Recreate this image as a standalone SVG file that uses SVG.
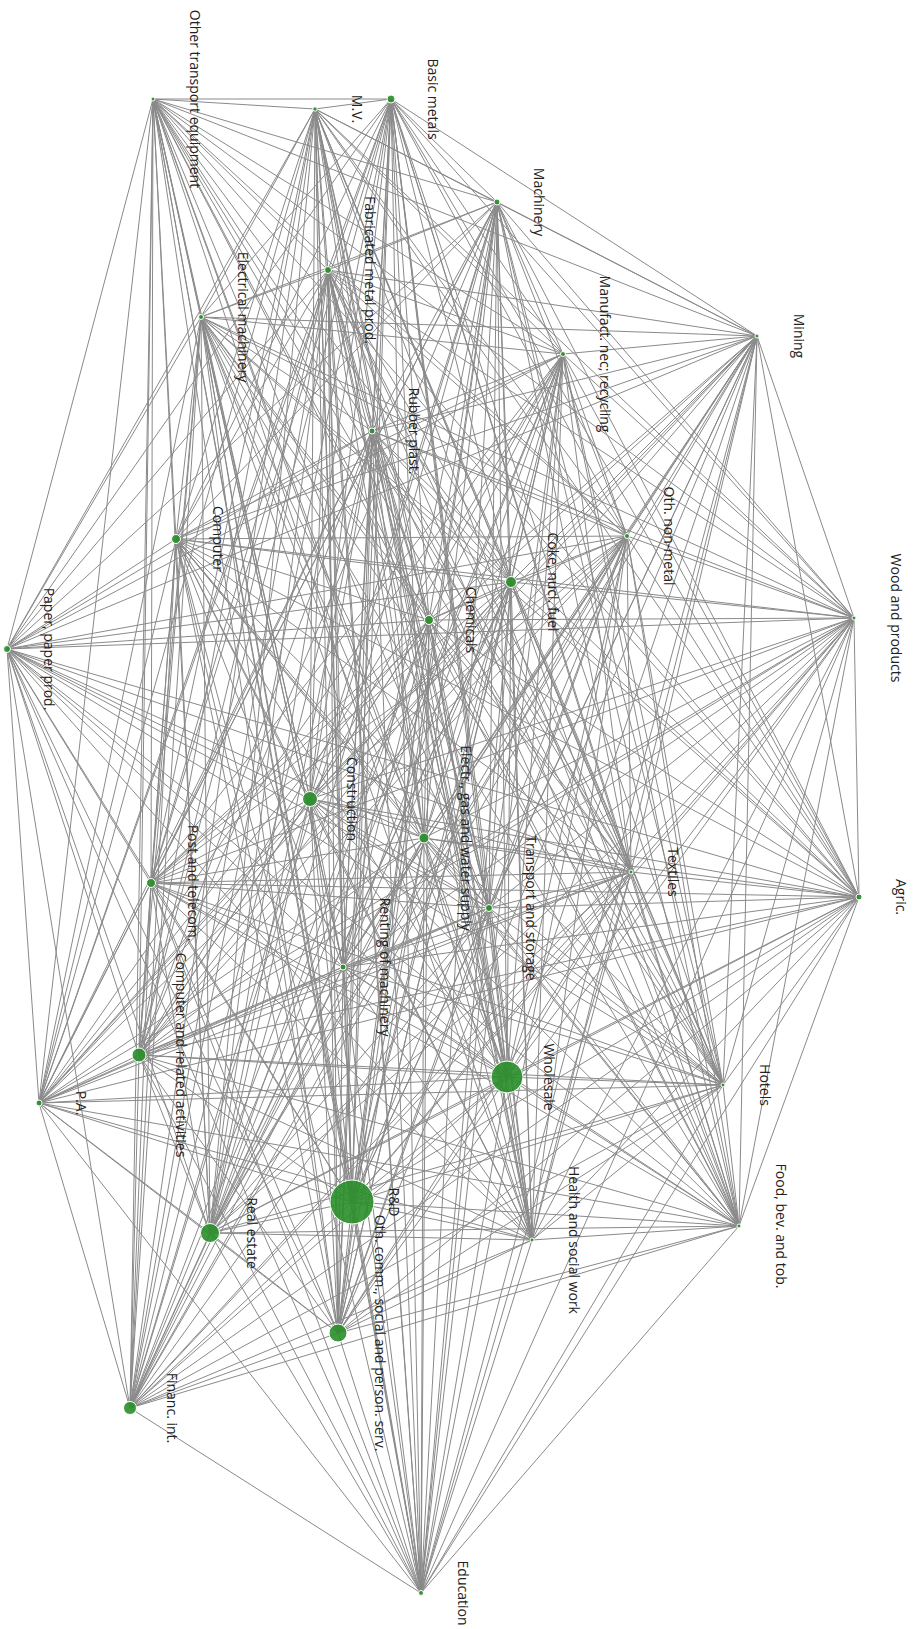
<svg xmlns="http://www.w3.org/2000/svg" width="920" height="1629" viewBox="0 0 920 1629">
<style>
.e line{stroke:#8a8a8a;stroke-width:1}
.n circle{fill:#2a8f2a;fill-opacity:.9;stroke:#fff;stroke-width:1}
.n text{font-family:"Open Sans","Liberation Sans",sans-serif;font-size:14px;fill:#222;text-anchor:middle}
</style>
<rect width="920" height="1629" fill="#fff"/>
<g id="edges" class="e">
<line x1="153" y1="99" x2="315" y2="109"/><line x1="153" y1="99" x2="391" y2="99"/><line x1="153" y1="99" x2="497" y2="202"/><line x1="153" y1="99" x2="328" y2="270"/><line x1="153" y1="99" x2="201" y2="317"/><line x1="153" y1="99" x2="757" y2="336"/><line x1="153" y1="99" x2="563" y2="354"/><line x1="153" y1="99" x2="372" y2="431"/><line x1="153" y1="99" x2="627" y2="536"/><line x1="153" y1="99" x2="176" y2="539"/><line x1="153" y1="99" x2="511" y2="582"/><line x1="153" y1="99" x2="854" y2="618"/><line x1="153" y1="99" x2="429" y2="620"/><line x1="153" y1="99" x2="7" y2="649"/><line x1="153" y1="99" x2="310" y2="799"/><line x1="153" y1="99" x2="424" y2="838"/><line x1="153" y1="99" x2="631" y2="872"/><line x1="153" y1="99" x2="151" y2="883"/><line x1="153" y1="99" x2="859" y2="897"/><line x1="153" y1="99" x2="489" y2="908"/><line x1="153" y1="99" x2="343" y2="967"/><line x1="153" y1="99" x2="139" y2="1055"/><line x1="153" y1="99" x2="507" y2="1077"/><line x1="153" y1="99" x2="723" y2="1085"/><line x1="153" y1="99" x2="39" y2="1103"/><line x1="153" y1="99" x2="352" y2="1202"/><line x1="153" y1="99" x2="739" y2="1226"/><line x1="153" y1="99" x2="210" y2="1233"/><line x1="153" y1="99" x2="532" y2="1240"/><line x1="153" y1="99" x2="338" y2="1333"/><line x1="153" y1="99" x2="130" y2="1408"/><line x1="153" y1="99" x2="421" y2="1593"/>
<line x1="315" y1="109" x2="391" y2="99"/><line x1="315" y1="109" x2="497" y2="202"/><line x1="315" y1="109" x2="328" y2="270"/><line x1="315" y1="109" x2="201" y2="317"/><line x1="315" y1="109" x2="757" y2="336"/><line x1="315" y1="109" x2="563" y2="354"/><line x1="315" y1="109" x2="372" y2="431"/><line x1="315" y1="109" x2="627" y2="536"/><line x1="315" y1="109" x2="176" y2="539"/><line x1="315" y1="109" x2="511" y2="582"/><line x1="315" y1="109" x2="854" y2="618"/><line x1="315" y1="109" x2="429" y2="620"/><line x1="315" y1="109" x2="7" y2="649"/><line x1="315" y1="109" x2="310" y2="799"/><line x1="315" y1="109" x2="424" y2="838"/><line x1="315" y1="109" x2="631" y2="872"/><line x1="315" y1="109" x2="151" y2="883"/><line x1="315" y1="109" x2="859" y2="897"/><line x1="315" y1="109" x2="489" y2="908"/><line x1="315" y1="109" x2="343" y2="967"/><line x1="315" y1="109" x2="139" y2="1055"/><line x1="315" y1="109" x2="507" y2="1077"/><line x1="315" y1="109" x2="723" y2="1085"/><line x1="315" y1="109" x2="39" y2="1103"/><line x1="315" y1="109" x2="352" y2="1202"/><line x1="315" y1="109" x2="739" y2="1226"/><line x1="315" y1="109" x2="210" y2="1233"/><line x1="315" y1="109" x2="532" y2="1240"/><line x1="315" y1="109" x2="338" y2="1333"/><line x1="315" y1="109" x2="130" y2="1408"/><line x1="315" y1="109" x2="421" y2="1593"/>
<line x1="391" y1="99" x2="497" y2="202"/><line x1="391" y1="99" x2="328" y2="270"/><line x1="391" y1="99" x2="201" y2="317"/><line x1="391" y1="99" x2="757" y2="336"/><line x1="391" y1="99" x2="563" y2="354"/><line x1="391" y1="99" x2="372" y2="431"/><line x1="391" y1="99" x2="627" y2="536"/><line x1="391" y1="99" x2="176" y2="539"/><line x1="391" y1="99" x2="511" y2="582"/><line x1="391" y1="99" x2="854" y2="618"/><line x1="391" y1="99" x2="429" y2="620"/><line x1="391" y1="99" x2="7" y2="649"/><line x1="391" y1="99" x2="310" y2="799"/><line x1="391" y1="99" x2="424" y2="838"/><line x1="391" y1="99" x2="631" y2="872"/><line x1="391" y1="99" x2="151" y2="883"/><line x1="391" y1="99" x2="859" y2="897"/><line x1="391" y1="99" x2="489" y2="908"/><line x1="391" y1="99" x2="343" y2="967"/><line x1="391" y1="99" x2="139" y2="1055"/><line x1="391" y1="99" x2="507" y2="1077"/><line x1="391" y1="99" x2="723" y2="1085"/><line x1="391" y1="99" x2="39" y2="1103"/><line x1="391" y1="99" x2="352" y2="1202"/><line x1="391" y1="99" x2="739" y2="1226"/><line x1="391" y1="99" x2="210" y2="1233"/><line x1="391" y1="99" x2="532" y2="1240"/><line x1="391" y1="99" x2="338" y2="1333"/><line x1="391" y1="99" x2="130" y2="1408"/><line x1="391" y1="99" x2="421" y2="1593"/>
<line x1="497" y1="202" x2="328" y2="270"/><line x1="497" y1="202" x2="201" y2="317"/><line x1="497" y1="202" x2="757" y2="336"/><line x1="497" y1="202" x2="563" y2="354"/><line x1="497" y1="202" x2="372" y2="431"/><line x1="497" y1="202" x2="627" y2="536"/><line x1="497" y1="202" x2="176" y2="539"/><line x1="497" y1="202" x2="511" y2="582"/><line x1="497" y1="202" x2="854" y2="618"/><line x1="497" y1="202" x2="429" y2="620"/><line x1="497" y1="202" x2="7" y2="649"/><line x1="497" y1="202" x2="310" y2="799"/><line x1="497" y1="202" x2="424" y2="838"/><line x1="497" y1="202" x2="631" y2="872"/><line x1="497" y1="202" x2="151" y2="883"/><line x1="497" y1="202" x2="859" y2="897"/><line x1="497" y1="202" x2="489" y2="908"/><line x1="497" y1="202" x2="343" y2="967"/><line x1="497" y1="202" x2="139" y2="1055"/><line x1="497" y1="202" x2="507" y2="1077"/><line x1="497" y1="202" x2="723" y2="1085"/><line x1="497" y1="202" x2="39" y2="1103"/><line x1="497" y1="202" x2="352" y2="1202"/><line x1="497" y1="202" x2="739" y2="1226"/><line x1="497" y1="202" x2="210" y2="1233"/><line x1="497" y1="202" x2="532" y2="1240"/><line x1="497" y1="202" x2="338" y2="1333"/><line x1="497" y1="202" x2="130" y2="1408"/><line x1="497" y1="202" x2="421" y2="1593"/>
<line x1="328" y1="270" x2="201" y2="317"/><line x1="328" y1="270" x2="757" y2="336"/><line x1="328" y1="270" x2="563" y2="354"/><line x1="328" y1="270" x2="372" y2="431"/><line x1="328" y1="270" x2="627" y2="536"/><line x1="328" y1="270" x2="176" y2="539"/><line x1="328" y1="270" x2="511" y2="582"/><line x1="328" y1="270" x2="854" y2="618"/><line x1="328" y1="270" x2="429" y2="620"/><line x1="328" y1="270" x2="7" y2="649"/><line x1="328" y1="270" x2="310" y2="799"/><line x1="328" y1="270" x2="424" y2="838"/><line x1="328" y1="270" x2="631" y2="872"/><line x1="328" y1="270" x2="151" y2="883"/><line x1="328" y1="270" x2="859" y2="897"/><line x1="328" y1="270" x2="489" y2="908"/><line x1="328" y1="270" x2="343" y2="967"/><line x1="328" y1="270" x2="139" y2="1055"/><line x1="328" y1="270" x2="507" y2="1077"/><line x1="328" y1="270" x2="723" y2="1085"/><line x1="328" y1="270" x2="39" y2="1103"/><line x1="328" y1="270" x2="352" y2="1202"/><line x1="328" y1="270" x2="739" y2="1226"/><line x1="328" y1="270" x2="210" y2="1233"/><line x1="328" y1="270" x2="532" y2="1240"/><line x1="328" y1="270" x2="338" y2="1333"/><line x1="328" y1="270" x2="130" y2="1408"/><line x1="328" y1="270" x2="421" y2="1593"/>
<line x1="201" y1="317" x2="757" y2="336"/><line x1="201" y1="317" x2="563" y2="354"/><line x1="201" y1="317" x2="372" y2="431"/><line x1="201" y1="317" x2="627" y2="536"/><line x1="201" y1="317" x2="176" y2="539"/><line x1="201" y1="317" x2="511" y2="582"/><line x1="201" y1="317" x2="854" y2="618"/><line x1="201" y1="317" x2="429" y2="620"/><line x1="201" y1="317" x2="7" y2="649"/><line x1="201" y1="317" x2="310" y2="799"/><line x1="201" y1="317" x2="424" y2="838"/><line x1="201" y1="317" x2="631" y2="872"/><line x1="201" y1="317" x2="151" y2="883"/><line x1="201" y1="317" x2="859" y2="897"/><line x1="201" y1="317" x2="489" y2="908"/><line x1="201" y1="317" x2="343" y2="967"/><line x1="201" y1="317" x2="139" y2="1055"/><line x1="201" y1="317" x2="507" y2="1077"/><line x1="201" y1="317" x2="723" y2="1085"/><line x1="201" y1="317" x2="39" y2="1103"/><line x1="201" y1="317" x2="352" y2="1202"/><line x1="201" y1="317" x2="739" y2="1226"/><line x1="201" y1="317" x2="210" y2="1233"/><line x1="201" y1="317" x2="532" y2="1240"/><line x1="201" y1="317" x2="338" y2="1333"/><line x1="201" y1="317" x2="130" y2="1408"/><line x1="201" y1="317" x2="421" y2="1593"/>
<line x1="757" y1="336" x2="563" y2="354"/><line x1="757" y1="336" x2="372" y2="431"/><line x1="757" y1="336" x2="627" y2="536"/><line x1="757" y1="336" x2="176" y2="539"/><line x1="757" y1="336" x2="511" y2="582"/><line x1="757" y1="336" x2="854" y2="618"/><line x1="757" y1="336" x2="429" y2="620"/><line x1="757" y1="336" x2="7" y2="649"/><line x1="757" y1="336" x2="310" y2="799"/><line x1="757" y1="336" x2="424" y2="838"/><line x1="757" y1="336" x2="631" y2="872"/><line x1="757" y1="336" x2="151" y2="883"/><line x1="757" y1="336" x2="859" y2="897"/><line x1="757" y1="336" x2="489" y2="908"/><line x1="757" y1="336" x2="343" y2="967"/><line x1="757" y1="336" x2="139" y2="1055"/><line x1="757" y1="336" x2="507" y2="1077"/><line x1="757" y1="336" x2="723" y2="1085"/><line x1="757" y1="336" x2="39" y2="1103"/><line x1="757" y1="336" x2="352" y2="1202"/><line x1="757" y1="336" x2="739" y2="1226"/><line x1="757" y1="336" x2="210" y2="1233"/><line x1="757" y1="336" x2="532" y2="1240"/><line x1="757" y1="336" x2="338" y2="1333"/><line x1="757" y1="336" x2="130" y2="1408"/><line x1="757" y1="336" x2="421" y2="1593"/>
<line x1="563" y1="354" x2="372" y2="431"/><line x1="563" y1="354" x2="627" y2="536"/><line x1="563" y1="354" x2="176" y2="539"/><line x1="563" y1="354" x2="511" y2="582"/><line x1="563" y1="354" x2="854" y2="618"/><line x1="563" y1="354" x2="429" y2="620"/><line x1="563" y1="354" x2="7" y2="649"/><line x1="563" y1="354" x2="310" y2="799"/><line x1="563" y1="354" x2="424" y2="838"/><line x1="563" y1="354" x2="631" y2="872"/><line x1="563" y1="354" x2="151" y2="883"/><line x1="563" y1="354" x2="859" y2="897"/><line x1="563" y1="354" x2="489" y2="908"/><line x1="563" y1="354" x2="343" y2="967"/><line x1="563" y1="354" x2="139" y2="1055"/><line x1="563" y1="354" x2="507" y2="1077"/><line x1="563" y1="354" x2="723" y2="1085"/><line x1="563" y1="354" x2="39" y2="1103"/><line x1="563" y1="354" x2="352" y2="1202"/><line x1="563" y1="354" x2="739" y2="1226"/><line x1="563" y1="354" x2="210" y2="1233"/><line x1="563" y1="354" x2="532" y2="1240"/><line x1="563" y1="354" x2="338" y2="1333"/><line x1="563" y1="354" x2="130" y2="1408"/><line x1="563" y1="354" x2="421" y2="1593"/>
<line x1="372" y1="431" x2="627" y2="536"/><line x1="372" y1="431" x2="176" y2="539"/><line x1="372" y1="431" x2="511" y2="582"/><line x1="372" y1="431" x2="854" y2="618"/><line x1="372" y1="431" x2="429" y2="620"/><line x1="372" y1="431" x2="7" y2="649"/><line x1="372" y1="431" x2="310" y2="799"/><line x1="372" y1="431" x2="424" y2="838"/><line x1="372" y1="431" x2="631" y2="872"/><line x1="372" y1="431" x2="151" y2="883"/><line x1="372" y1="431" x2="859" y2="897"/><line x1="372" y1="431" x2="489" y2="908"/><line x1="372" y1="431" x2="343" y2="967"/><line x1="372" y1="431" x2="139" y2="1055"/><line x1="372" y1="431" x2="507" y2="1077"/><line x1="372" y1="431" x2="723" y2="1085"/><line x1="372" y1="431" x2="39" y2="1103"/><line x1="372" y1="431" x2="352" y2="1202"/><line x1="372" y1="431" x2="739" y2="1226"/><line x1="372" y1="431" x2="210" y2="1233"/><line x1="372" y1="431" x2="532" y2="1240"/><line x1="372" y1="431" x2="338" y2="1333"/><line x1="372" y1="431" x2="130" y2="1408"/><line x1="372" y1="431" x2="421" y2="1593"/>
<line x1="627" y1="536" x2="176" y2="539"/><line x1="627" y1="536" x2="511" y2="582"/><line x1="627" y1="536" x2="854" y2="618"/><line x1="627" y1="536" x2="429" y2="620"/><line x1="627" y1="536" x2="7" y2="649"/><line x1="627" y1="536" x2="310" y2="799"/><line x1="627" y1="536" x2="424" y2="838"/><line x1="627" y1="536" x2="631" y2="872"/><line x1="627" y1="536" x2="151" y2="883"/><line x1="627" y1="536" x2="859" y2="897"/><line x1="627" y1="536" x2="489" y2="908"/><line x1="627" y1="536" x2="343" y2="967"/><line x1="627" y1="536" x2="139" y2="1055"/><line x1="627" y1="536" x2="507" y2="1077"/><line x1="627" y1="536" x2="723" y2="1085"/><line x1="627" y1="536" x2="39" y2="1103"/><line x1="627" y1="536" x2="352" y2="1202"/><line x1="627" y1="536" x2="739" y2="1226"/><line x1="627" y1="536" x2="210" y2="1233"/><line x1="627" y1="536" x2="532" y2="1240"/><line x1="627" y1="536" x2="338" y2="1333"/><line x1="627" y1="536" x2="130" y2="1408"/><line x1="627" y1="536" x2="421" y2="1593"/>
<line x1="176" y1="539" x2="511" y2="582"/><line x1="176" y1="539" x2="854" y2="618"/><line x1="176" y1="539" x2="429" y2="620"/><line x1="176" y1="539" x2="7" y2="649"/><line x1="176" y1="539" x2="310" y2="799"/><line x1="176" y1="539" x2="424" y2="838"/><line x1="176" y1="539" x2="631" y2="872"/><line x1="176" y1="539" x2="151" y2="883"/><line x1="176" y1="539" x2="859" y2="897"/><line x1="176" y1="539" x2="489" y2="908"/><line x1="176" y1="539" x2="343" y2="967"/><line x1="176" y1="539" x2="139" y2="1055"/><line x1="176" y1="539" x2="507" y2="1077"/><line x1="176" y1="539" x2="723" y2="1085"/><line x1="176" y1="539" x2="39" y2="1103"/><line x1="176" y1="539" x2="352" y2="1202"/><line x1="176" y1="539" x2="739" y2="1226"/><line x1="176" y1="539" x2="210" y2="1233"/><line x1="176" y1="539" x2="532" y2="1240"/><line x1="176" y1="539" x2="338" y2="1333"/><line x1="176" y1="539" x2="130" y2="1408"/><line x1="176" y1="539" x2="421" y2="1593"/>
<line x1="511" y1="582" x2="854" y2="618"/><line x1="511" y1="582" x2="429" y2="620"/><line x1="511" y1="582" x2="7" y2="649"/><line x1="511" y1="582" x2="310" y2="799"/><line x1="511" y1="582" x2="424" y2="838"/><line x1="511" y1="582" x2="631" y2="872"/><line x1="511" y1="582" x2="151" y2="883"/><line x1="511" y1="582" x2="859" y2="897"/><line x1="511" y1="582" x2="489" y2="908"/><line x1="511" y1="582" x2="343" y2="967"/><line x1="511" y1="582" x2="139" y2="1055"/><line x1="511" y1="582" x2="507" y2="1077"/><line x1="511" y1="582" x2="723" y2="1085"/><line x1="511" y1="582" x2="39" y2="1103"/><line x1="511" y1="582" x2="352" y2="1202"/><line x1="511" y1="582" x2="739" y2="1226"/><line x1="511" y1="582" x2="210" y2="1233"/><line x1="511" y1="582" x2="532" y2="1240"/><line x1="511" y1="582" x2="338" y2="1333"/><line x1="511" y1="582" x2="130" y2="1408"/><line x1="511" y1="582" x2="421" y2="1593"/>
<line x1="854" y1="618" x2="429" y2="620"/><line x1="854" y1="618" x2="7" y2="649"/><line x1="854" y1="618" x2="310" y2="799"/><line x1="854" y1="618" x2="424" y2="838"/><line x1="854" y1="618" x2="631" y2="872"/><line x1="854" y1="618" x2="151" y2="883"/><line x1="854" y1="618" x2="859" y2="897"/><line x1="854" y1="618" x2="489" y2="908"/><line x1="854" y1="618" x2="343" y2="967"/><line x1="854" y1="618" x2="139" y2="1055"/><line x1="854" y1="618" x2="507" y2="1077"/><line x1="854" y1="618" x2="723" y2="1085"/><line x1="854" y1="618" x2="39" y2="1103"/><line x1="854" y1="618" x2="352" y2="1202"/><line x1="854" y1="618" x2="739" y2="1226"/><line x1="854" y1="618" x2="210" y2="1233"/><line x1="854" y1="618" x2="532" y2="1240"/><line x1="854" y1="618" x2="338" y2="1333"/><line x1="854" y1="618" x2="130" y2="1408"/><line x1="854" y1="618" x2="421" y2="1593"/>
<line x1="429" y1="620" x2="7" y2="649"/><line x1="429" y1="620" x2="310" y2="799"/><line x1="429" y1="620" x2="424" y2="838"/><line x1="429" y1="620" x2="631" y2="872"/><line x1="429" y1="620" x2="151" y2="883"/><line x1="429" y1="620" x2="859" y2="897"/><line x1="429" y1="620" x2="489" y2="908"/><line x1="429" y1="620" x2="343" y2="967"/><line x1="429" y1="620" x2="139" y2="1055"/><line x1="429" y1="620" x2="507" y2="1077"/><line x1="429" y1="620" x2="723" y2="1085"/><line x1="429" y1="620" x2="39" y2="1103"/><line x1="429" y1="620" x2="352" y2="1202"/><line x1="429" y1="620" x2="739" y2="1226"/><line x1="429" y1="620" x2="210" y2="1233"/><line x1="429" y1="620" x2="532" y2="1240"/><line x1="429" y1="620" x2="338" y2="1333"/><line x1="429" y1="620" x2="130" y2="1408"/><line x1="429" y1="620" x2="421" y2="1593"/>
<line x1="7" y1="649" x2="310" y2="799"/><line x1="7" y1="649" x2="424" y2="838"/><line x1="7" y1="649" x2="631" y2="872"/><line x1="7" y1="649" x2="151" y2="883"/><line x1="7" y1="649" x2="859" y2="897"/><line x1="7" y1="649" x2="489" y2="908"/><line x1="7" y1="649" x2="343" y2="967"/><line x1="7" y1="649" x2="139" y2="1055"/><line x1="7" y1="649" x2="507" y2="1077"/><line x1="7" y1="649" x2="723" y2="1085"/><line x1="7" y1="649" x2="39" y2="1103"/><line x1="7" y1="649" x2="352" y2="1202"/><line x1="7" y1="649" x2="739" y2="1226"/><line x1="7" y1="649" x2="210" y2="1233"/><line x1="7" y1="649" x2="532" y2="1240"/><line x1="7" y1="649" x2="338" y2="1333"/><line x1="7" y1="649" x2="130" y2="1408"/><line x1="7" y1="649" x2="421" y2="1593"/>
<line x1="310" y1="799" x2="424" y2="838"/><line x1="310" y1="799" x2="631" y2="872"/><line x1="310" y1="799" x2="151" y2="883"/><line x1="310" y1="799" x2="859" y2="897"/><line x1="310" y1="799" x2="489" y2="908"/><line x1="310" y1="799" x2="343" y2="967"/><line x1="310" y1="799" x2="139" y2="1055"/><line x1="310" y1="799" x2="507" y2="1077"/><line x1="310" y1="799" x2="723" y2="1085"/><line x1="310" y1="799" x2="39" y2="1103"/><line x1="310" y1="799" x2="352" y2="1202"/><line x1="310" y1="799" x2="739" y2="1226"/><line x1="310" y1="799" x2="210" y2="1233"/><line x1="310" y1="799" x2="532" y2="1240"/><line x1="310" y1="799" x2="338" y2="1333"/><line x1="310" y1="799" x2="130" y2="1408"/><line x1="310" y1="799" x2="421" y2="1593"/>
<line x1="424" y1="838" x2="631" y2="872"/><line x1="424" y1="838" x2="151" y2="883"/><line x1="424" y1="838" x2="859" y2="897"/><line x1="424" y1="838" x2="489" y2="908"/><line x1="424" y1="838" x2="343" y2="967"/><line x1="424" y1="838" x2="139" y2="1055"/><line x1="424" y1="838" x2="507" y2="1077"/><line x1="424" y1="838" x2="723" y2="1085"/><line x1="424" y1="838" x2="39" y2="1103"/><line x1="424" y1="838" x2="352" y2="1202"/><line x1="424" y1="838" x2="739" y2="1226"/><line x1="424" y1="838" x2="210" y2="1233"/><line x1="424" y1="838" x2="532" y2="1240"/><line x1="424" y1="838" x2="338" y2="1333"/><line x1="424" y1="838" x2="130" y2="1408"/><line x1="424" y1="838" x2="421" y2="1593"/>
<line x1="631" y1="872" x2="151" y2="883"/><line x1="631" y1="872" x2="859" y2="897"/><line x1="631" y1="872" x2="489" y2="908"/><line x1="631" y1="872" x2="343" y2="967"/><line x1="631" y1="872" x2="139" y2="1055"/><line x1="631" y1="872" x2="507" y2="1077"/><line x1="631" y1="872" x2="723" y2="1085"/><line x1="631" y1="872" x2="39" y2="1103"/><line x1="631" y1="872" x2="352" y2="1202"/><line x1="631" y1="872" x2="739" y2="1226"/><line x1="631" y1="872" x2="210" y2="1233"/><line x1="631" y1="872" x2="532" y2="1240"/><line x1="631" y1="872" x2="338" y2="1333"/><line x1="631" y1="872" x2="130" y2="1408"/><line x1="631" y1="872" x2="421" y2="1593"/>
<line x1="151" y1="883" x2="859" y2="897"/><line x1="151" y1="883" x2="489" y2="908"/><line x1="151" y1="883" x2="343" y2="967"/><line x1="151" y1="883" x2="139" y2="1055"/><line x1="151" y1="883" x2="507" y2="1077"/><line x1="151" y1="883" x2="723" y2="1085"/><line x1="151" y1="883" x2="39" y2="1103"/><line x1="151" y1="883" x2="352" y2="1202"/><line x1="151" y1="883" x2="739" y2="1226"/><line x1="151" y1="883" x2="210" y2="1233"/><line x1="151" y1="883" x2="532" y2="1240"/><line x1="151" y1="883" x2="338" y2="1333"/><line x1="151" y1="883" x2="130" y2="1408"/><line x1="151" y1="883" x2="421" y2="1593"/>
<line x1="859" y1="897" x2="489" y2="908"/><line x1="859" y1="897" x2="343" y2="967"/><line x1="859" y1="897" x2="139" y2="1055"/><line x1="859" y1="897" x2="507" y2="1077"/><line x1="859" y1="897" x2="723" y2="1085"/><line x1="859" y1="897" x2="39" y2="1103"/><line x1="859" y1="897" x2="352" y2="1202"/><line x1="859" y1="897" x2="739" y2="1226"/><line x1="859" y1="897" x2="210" y2="1233"/><line x1="859" y1="897" x2="532" y2="1240"/><line x1="859" y1="897" x2="338" y2="1333"/><line x1="859" y1="897" x2="130" y2="1408"/><line x1="859" y1="897" x2="421" y2="1593"/>
<line x1="489" y1="908" x2="343" y2="967"/><line x1="489" y1="908" x2="139" y2="1055"/><line x1="489" y1="908" x2="507" y2="1077"/><line x1="489" y1="908" x2="723" y2="1085"/><line x1="489" y1="908" x2="39" y2="1103"/><line x1="489" y1="908" x2="352" y2="1202"/><line x1="489" y1="908" x2="739" y2="1226"/><line x1="489" y1="908" x2="210" y2="1233"/><line x1="489" y1="908" x2="532" y2="1240"/><line x1="489" y1="908" x2="338" y2="1333"/><line x1="489" y1="908" x2="130" y2="1408"/><line x1="489" y1="908" x2="421" y2="1593"/>
<line x1="343" y1="967" x2="139" y2="1055"/><line x1="343" y1="967" x2="507" y2="1077"/><line x1="343" y1="967" x2="723" y2="1085"/><line x1="343" y1="967" x2="39" y2="1103"/><line x1="343" y1="967" x2="352" y2="1202"/><line x1="343" y1="967" x2="739" y2="1226"/><line x1="343" y1="967" x2="210" y2="1233"/><line x1="343" y1="967" x2="532" y2="1240"/><line x1="343" y1="967" x2="338" y2="1333"/><line x1="343" y1="967" x2="130" y2="1408"/><line x1="343" y1="967" x2="421" y2="1593"/>
<line x1="139" y1="1055" x2="507" y2="1077"/><line x1="139" y1="1055" x2="723" y2="1085"/><line x1="139" y1="1055" x2="39" y2="1103"/><line x1="139" y1="1055" x2="352" y2="1202"/><line x1="139" y1="1055" x2="739" y2="1226"/><line x1="139" y1="1055" x2="210" y2="1233"/><line x1="139" y1="1055" x2="532" y2="1240"/><line x1="139" y1="1055" x2="338" y2="1333"/><line x1="139" y1="1055" x2="130" y2="1408"/><line x1="139" y1="1055" x2="421" y2="1593"/>
<line x1="507" y1="1077" x2="723" y2="1085"/><line x1="507" y1="1077" x2="39" y2="1103"/><line x1="507" y1="1077" x2="352" y2="1202"/><line x1="507" y1="1077" x2="739" y2="1226"/><line x1="507" y1="1077" x2="210" y2="1233"/><line x1="507" y1="1077" x2="532" y2="1240"/><line x1="507" y1="1077" x2="338" y2="1333"/><line x1="507" y1="1077" x2="130" y2="1408"/><line x1="507" y1="1077" x2="421" y2="1593"/>
<line x1="723" y1="1085" x2="39" y2="1103"/><line x1="723" y1="1085" x2="352" y2="1202"/><line x1="723" y1="1085" x2="739" y2="1226"/><line x1="723" y1="1085" x2="210" y2="1233"/><line x1="723" y1="1085" x2="532" y2="1240"/><line x1="723" y1="1085" x2="338" y2="1333"/><line x1="723" y1="1085" x2="130" y2="1408"/><line x1="723" y1="1085" x2="421" y2="1593"/>
<line x1="39" y1="1103" x2="352" y2="1202"/><line x1="39" y1="1103" x2="739" y2="1226"/><line x1="39" y1="1103" x2="210" y2="1233"/><line x1="39" y1="1103" x2="532" y2="1240"/><line x1="39" y1="1103" x2="338" y2="1333"/><line x1="39" y1="1103" x2="130" y2="1408"/><line x1="39" y1="1103" x2="421" y2="1593"/>
<line x1="352" y1="1202" x2="739" y2="1226"/><line x1="352" y1="1202" x2="210" y2="1233"/><line x1="352" y1="1202" x2="532" y2="1240"/><line x1="352" y1="1202" x2="338" y2="1333"/><line x1="352" y1="1202" x2="130" y2="1408"/><line x1="352" y1="1202" x2="421" y2="1593"/>
<line x1="739" y1="1226" x2="210" y2="1233"/><line x1="739" y1="1226" x2="532" y2="1240"/><line x1="739" y1="1226" x2="338" y2="1333"/><line x1="739" y1="1226" x2="130" y2="1408"/><line x1="739" y1="1226" x2="421" y2="1593"/>
<line x1="210" y1="1233" x2="532" y2="1240"/><line x1="210" y1="1233" x2="338" y2="1333"/><line x1="210" y1="1233" x2="130" y2="1408"/><line x1="210" y1="1233" x2="421" y2="1593"/>
<line x1="532" y1="1240" x2="338" y2="1333"/><line x1="532" y1="1240" x2="130" y2="1408"/><line x1="532" y1="1240" x2="421" y2="1593"/>
<line x1="338" y1="1333" x2="130" y2="1408"/><line x1="338" y1="1333" x2="421" y2="1593"/>
<line x1="130" y1="1408" x2="421" y2="1593"/>
</g>
<g id="nodes">
<g id="n-other-transport" class="n"><circle cx="153" cy="99" r="2"/><text transform="translate(190,99) rotate(90)">Other transport equipment</text></g>
<g id="n-mv" class="n"><circle cx="315" cy="109" r="2.2"/><text transform="translate(352,109) rotate(90)">M.V.</text></g>
<g id="n-basic-metals" class="n"><circle cx="391" cy="99" r="4"/><text transform="translate(428,99) rotate(90)">Basic metals</text></g>
<g id="n-machinery" class="n"><circle cx="497" cy="202" r="3"/><text transform="translate(534,202) rotate(90)">Machinery</text></g>
<g id="n-fabricated" class="n"><circle cx="328" cy="270" r="3.5"/><text transform="translate(365,270) rotate(90)">Fabricated metal prod.</text></g>
<g id="n-electrical-machinery" class="n"><circle cx="201" cy="317" r="2.5"/><text transform="translate(238,317) rotate(90)">Electrical machinery</text></g>
<g id="n-mining" class="n"><circle cx="757" cy="336" r="2"/><text transform="translate(794,336) rotate(90)">Mining</text></g>
<g id="n-manufact" class="n"><circle cx="563" cy="354" r="2.5"/><text transform="translate(600,354) rotate(90)">Manufact. nec; recycling</text></g>
<g id="n-rubber" class="n"><circle cx="372" cy="431" r="3"/><text transform="translate(409,431) rotate(90)">Rubber plast.</text></g>
<g id="n-oth-non-metal" class="n"><circle cx="627" cy="536" r="2.5"/><text transform="translate(664,536) rotate(90)">Oth. non-metal</text></g>
<g id="n-computer" class="n"><circle cx="176" cy="539" r="4.5"/><text transform="translate(213,539) rotate(90)">Computer</text></g>
<g id="n-coke" class="n"><circle cx="511" cy="582" r="5.5"/><text transform="translate(548,582) rotate(90)">Coke, nucl. fuel</text></g>
<g id="n-wood" class="n"><circle cx="854" cy="618" r="2"/><text transform="translate(891,618) rotate(90)">Wood and products</text></g>
<g id="n-chemicals" class="n"><circle cx="429" cy="620" r="4.5"/><text transform="translate(466,620) rotate(90)">Chemicals</text></g>
<g id="n-paper" class="n"><circle cx="7" cy="649" r="3.5"/><text transform="translate(44,649) rotate(90)">Paper, paper prod.</text></g>
<g id="n-construction" class="n"><circle cx="310" cy="799" r="7.5"/><text transform="translate(347,799) rotate(90)">Construction</text></g>
<g id="n-electr" class="n"><circle cx="424" cy="838" r="5"/><text transform="translate(461,838) rotate(90)">Electr., gas and water supply</text></g>
<g id="n-textiles" class="n"><circle cx="631" cy="872" r="2"/><text transform="translate(668,872) rotate(90)">Textiles</text></g>
<g id="n-post" class="n"><circle cx="151" cy="883" r="4.5"/><text transform="translate(188,883) rotate(90)">Post and telecom.</text></g>
<g id="n-agric" class="n"><circle cx="859" cy="897" r="3"/><text transform="translate(896,897) rotate(90)">Agric.</text></g>
<g id="n-transport" class="n"><circle cx="489" cy="908" r="3.5"/><text transform="translate(526,908) rotate(90)">Transport and storage</text></g>
<g id="n-renting" class="n"><circle cx="343" cy="967" r="3"/><text transform="translate(380,967) rotate(90)">Renting of machinery</text></g>
<g id="n-computer-related" class="n"><circle cx="139" cy="1055" r="7"/><text transform="translate(176,1055) rotate(90)">Computer and related activities</text></g>
<g id="n-wholesale" class="n"><circle cx="507" cy="1077" r="16"/><text transform="translate(544,1077) rotate(90)">Wholesale</text></g>
<g id="n-hotels" class="n"><circle cx="723" cy="1085" r="2"/><text transform="translate(760,1085) rotate(90)">Hotels</text></g>
<g id="n-pa" class="n"><circle cx="39" cy="1103" r="3"/><text transform="translate(76,1103) rotate(90)">P.A.</text></g>
<g id="n-rd" class="n"><circle cx="352" cy="1202" r="22"/><text transform="translate(389,1202) rotate(90)">R&amp;D</text></g>
<g id="n-food" class="n"><circle cx="739" cy="1226" r="2"/><text transform="translate(776,1226) rotate(90)">Food, bev. and tob.</text></g>
<g id="n-real-estate" class="n"><circle cx="210" cy="1233" r="9.5"/><text transform="translate(247,1233) rotate(90)">Real estate</text></g>
<g id="n-health" class="n"><circle cx="532" cy="1240" r="2"/><text transform="translate(569,1240) rotate(90)">Health and social work</text></g>
<g id="n-oth-comm" class="n"><circle cx="338" cy="1333" r="9"/><text transform="translate(375,1333) rotate(90)">Oth. comm., social and person. serv.</text></g>
<g id="n-financ" class="n"><circle cx="130" cy="1408" r="6.5"/><text transform="translate(167,1408) rotate(90)">Financ. int.</text></g>
<g id="n-education" class="n"><circle cx="421" cy="1593" r="2.5"/><text transform="translate(458,1593) rotate(90)">Education</text></g>
</g>
</svg>
